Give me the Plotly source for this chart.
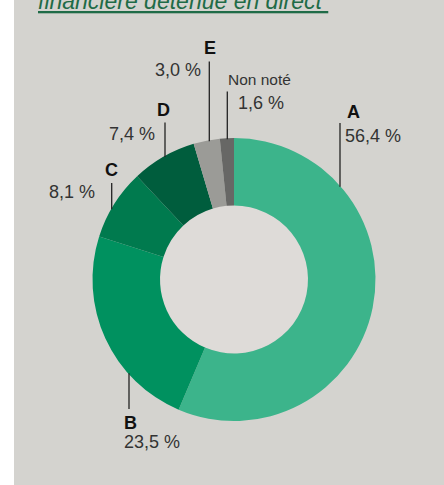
import math
import plotly.graph_objects as go

categories = ["A", "B", "C", "D", "E", "Non noté"]
values = [56.4, 23.5, 8.1, 7.4, 3.0, 1.6]
colors = ["#3cb48b", "#00915f", "#007a4e", "#005d3d", "#9b9b97", "#676765"]
title_text = "financière détenue en direct "

W, H = 444, 485
CX, CY, R = 234, 279.5, 141.5
HOLE_R = 74


def px(x):
    return x / W


def py(y):
    return 1 - y / H


def fmt(v):
    return f"{v:.1f}".replace(".", ",") + " %"


fig = go.Figure()
fig.add_trace(go.Pie(
    labels=categories, values=values, sort=False, direction="clockwise",
    rotation=0, hole=HOLE_R / R, textinfo="none", hoverinfo="label+percent",
    marker=dict(colors=colors, line=dict(width=0)),
    domain=dict(x=[px(CX - R), px(CX + R)], y=[py(CY + R), py(CY - R)]),
    showlegend=False,
))

shapes = [
    dict(type="rect", xref="paper", yref="paper", x0=px(14), x1=1, y0=0, y1=1,
         fillcolor="#d4d3cf", line=dict(width=0), layer="below"),
    dict(type="circle", xref="paper", yref="paper",
         x0=px(CX - HOLE_R), x1=px(CX + HOLE_R), y0=py(CY + HOLE_R), y1=py(CY - HOLE_R),
         fillcolor="#dedbd8", line=dict(width=0), layer="below"),
]

# leader lines: (x position, top/bottom end, side)
leaders = {
    "A": (340, 123, "top"),
    "B": (129, 409, "bottom"),
    "C": (111.7, 183, "top"),
    "D": (165, 122.5, "top"),
    "E": (209.3, 61.5, "top"),
    "Non noté": (227.3, 91.5, "top"),
}
for cat in categories:
    x, yend, side = leaders[cat]
    dy = math.sqrt(max(R * R - (x - CX) ** 2, 0))
    yedge = CY - dy + 1 if side == "top" else CY + dy - 1
    shapes.append(dict(type="line", xref="paper", yref="paper",
                       x0=px(x), x1=px(x), y0=py(yedge), y1=py(yend),
                       line=dict(color="#222222", width=1.3), layer="above"))

NUM_FONT = dict(family="Liberation Sans, Arial, sans-serif", size=18, color="#333333")
LET_FONT = dict(family="Liberation Sans, Arial, sans-serif", size=18, color="#111111")

# label layout: (letter x, letter y, letter anchor, value x, value y, value anchor)
label_pos = {
    "A": (345, 112, "left", 343, 136, "left"),
    "B": (122, 423, "left", 121.5, 442, "left"),
    "C": (111.7, 170, "center", 97, 192.5, "right"),
    "D": (163, 110.5, "center", 157, 134, "right"),
    "E": (210, 48, "center", 203, 70, "right"),
    "Non noté": (225.5, 80, "left", 235.5, 102.5, "left"),
}
annotations = []
for cat, v in zip(categories, values):
    lx, ly, la, vx, vy, va = label_pos[cat]
    if cat == "Non noté":
        txt = cat
        font = dict(NUM_FONT, size=15.5)
    else:
        txt = f"<b>{cat}</b>"
        font = LET_FONT
    annotations.append(dict(x=px(lx), y=py(ly), xref="paper", yref="paper", text=txt,
                            showarrow=False, xanchor=la, yanchor="middle", font=font))
    annotations.append(dict(x=px(vx), y=py(vy), xref="paper", yref="paper", text=fmt(v),
                            showarrow=False, xanchor=va, yanchor="middle", font=NUM_FONT))

annotations.append(dict(x=px(36), y=py(16), xref="paper", yref="paper",
                        text=f"<i><u>{title_text}</u></i>", showarrow=False,
                        xanchor="left", yanchor="bottom",
                        font=dict(family="Liberation Sans, Arial, sans-serif", size=23,
                                  color="#1f6b47")))

fig.update_layout(
    width=W, height=H, margin=dict(l=0, r=0, t=0, b=0),
    paper_bgcolor="white", plot_bgcolor="white",
    shapes=shapes, annotations=annotations,
)

fig.write_html("out.html", config={"displayModeBar": False},
               post_script="document.body.style.margin='0';")
